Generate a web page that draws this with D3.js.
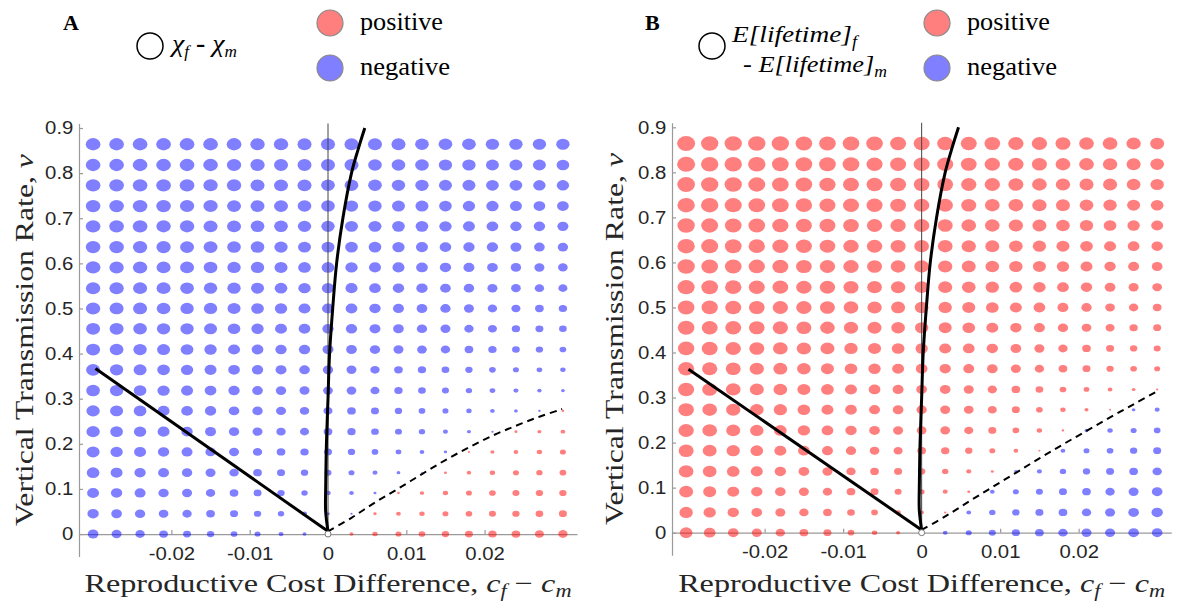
<!DOCTYPE html>
<html>
<head>
<meta charset="utf-8">
<script src="https://cdn.jsdelivr.net/npm/d3@7"></script>
<style>
  body { margin: 0; background: #fff; }
  svg { display: block; }
</style>
</head>
<body>
<svg id="chart" width="1179" height="604"></svg>
<script>
// grid of parameter values
const costDiff = [-0.03, -0.027, -0.024, -0.021, -0.018, -0.015, -0.012, -0.009, -0.006, -0.003, 0,
                  0.003, 0.006, 0.009, 0.012, 0.015, 0.018, 0.021, 0.024, 0.027, 0.03];
const transRate = [0, 0.045, 0.091, 0.136, 0.182, 0.227, 0.273, 0.318, 0.364, 0.409,
                   0.455, 0.5, 0.545, 0.591, 0.636, 0.682, 0.727, 0.773, 0.818, 0.864];

const xTicks = [-0.02, -0.01, 0, 0.01, 0.02];
const xTickLabels = ["-0.02", "-0.01", "0", "0.01", "0.02"];
const yTicks = [0, 0.1, 0.2, 0.3, 0.4, 0.5, 0.6, 0.7, 0.8, 0.9];
const yTickLabels = ["0", "0.1", "0.2", "0.3", "0.4", "0.5", "0.6", "0.7", "0.8", "0.9"];

// chi_f - chi_m (relative size, sign = colour), one row per transRate, from v = 0 upwards
const chiDiff = [
  [-28,-26,-24,-22,-20,-18,-16,-14,-11,-8,0, 8,12,14,16,18,20,21,22,23,24],
  [-30,-28,-27,-25,-24,-22,-20,-18,-15,-11,-7, -3,6,10,12,14,16,17,18,19,20],
  [-32,-30,-29,-27,-26,-24,-22,-20,-18,-15,-12, -10,-5,4,9,12,14,16,17,18,18],
  [-34,-32,-30,-29,-27,-26,-24,-22,-20,-18,-17, -14,-11,-7,-1,5,9,12,14,15,16],
  [-35,-33,-32,-30,-29,-27,-26,-24,-22,-21,-20, -18,-16,-13,-10,-6,3,8,10,12,14],
  [-36,-34,-33,-32,-30,-29,-27,-26,-24,-23,-22, -21,-19,-17,-15,-11,-8,-3,5,8,10],
  [-36,-35,-34,-32,-31,-30,-28,-27,-26,-24,-23, -22,-20,-18,-16,-14,-12,-10,-7,-3,4],
  [-37,-36,-34,-33,-32,-31,-30,-28,-27,-26,-25, -25,-23,-21,-19,-17,-15,-13,-11,-9,-7],
  [-38,-36,-35,-34,-33,-32,-31,-30,-29,-28,-27, -26,-24,-22,-21,-19,-18,-16,-14,-13,-12],
  [-38,-37,-36,-35,-34,-33,-32,-31,-30,-30,-29, -28,-27,-26,-25,-24,-22,-21,-19,-18,-16],
  [-38,-38,-37,-36,-36,-35,-34,-33,-32,-31,-30, -30,-29,-28,-27,-26,-24,-23,-21,-20,-19],
  [-39,-38,-38,-37,-36,-36,-35,-34,-33,-32,-32, -31,-30,-29,-28,-27,-26,-24,-23,-22,-21],
  [-39,-39,-38,-38,-37,-36,-36,-35,-34,-33,-33, -32,-31,-30,-30,-28,-27,-26,-25,-24,-23],
  [-40,-39,-39,-38,-38,-37,-36,-36,-35,-34,-34, -33,-32,-32,-31,-30,-29,-28,-27,-26,-25],
  [-40,-40,-39,-39,-38,-38,-37,-37,-36,-35,-35, -34,-34,-33,-32,-31,-30,-30,-29,-28,-27],
  [-40,-40,-40,-39,-39,-38,-38,-37,-37,-36,-36, -35,-35,-34,-34,-33,-32,-31,-30,-30,-29],
  [-40,-40,-40,-40,-39,-39,-38,-38,-38,-37,-37, -36,-36,-35,-35,-34,-33,-33,-32,-31,-31],
  [-40,-40,-40,-40,-40,-39,-39,-38,-38,-38,-37, -37,-37,-36,-36,-35,-35,-34,-34,-33,-33],
  [-40,-40,-40,-40,-40,-40,-39,-39,-38,-38,-38, -38,-37,-37,-37,-36,-36,-35,-35,-35,-34],
  [-40,-40,-40,-40,-40,-40,-40,-39,-39,-38,-38, -38,-38,-38,-37,-37,-37,-36,-36,-36,-36]
];

// E[lifetime]_f - E[lifetime]_m, same layout
const lifetimeDiff = [
  [34,31,28,26,24,22,20,16,12,8,0, -10,-14,-17,-20,-22,-24,-26,-26,-28,-28],
  [36,33,30,28,26,24,22,19,16,12,9, 3,-10,-15,-18,-20,-22,-24,-26,-28,-30],
  [38,35,32,30,28,26,24,22,20,17,14, 11,5,-10,-14,-17,-20,-22,-24,-26,-28],
  [40,37,34,32,30,28,26,24,22,20,18, 15,11,5,-6,-11,-15,-18,-20,-22,-24],
  [41,38,36,34,32,31,29,27,25,23,22, 21,18,14,10,2,-10,-14,-16,-18,-20],
  [42,40,38,36,34,33,31,30,28,26,25, 25,23,20,16,12,4,-8,-12,-14,-16],
  [43,40,39,37,36,34,32,31,29,28,27, 26,25,23,20,16,12,8,2,-7,-11],
  [44,41,40,38,37,35,34,32,31,29,28, 28,26,24,22,19,16,13,10,7,3],
  [44,42,41,39,38,37,35,34,33,32,31, 30,29,28,26,24,22,20,18,16,14],
  [45,44,42,41,40,39,38,36,35,34,33, 32,31,30,28,26,24,22,20,18,17],
  [46,44,44,43,42,41,40,39,38,37,36, 35,34,32,30,29,27,25,23,21,20],
  [46,45,44,43,42,42,41,40,39,38,37, 36,35,34,32,31,29,27,25,24,22],
  [47,46,45,44,43,42,42,41,40,39,38, 38,37,36,34,33,31,30,28,26,25],
  [48,46,46,45,44,43,42,42,41,40,40, 39,38,37,36,35,33,32,30,29,28],
  [48,47,46,45,44,44,43,42,42,41,40, 40,39,38,37,36,35,34,32,31,30],
  [48,47,46,46,45,44,44,43,42,42,42, 41,40,40,39,38,37,36,34,33,32],
  [48,48,47,46,46,45,44,44,44,43,42, 42,41,40,40,39,38,37,36,35,34],
  [49,48,48,47,46,46,45,44,44,44,43, 43,42,42,41,40,39,38,38,37,36],
  [50,48,48,48,46,46,46,46,44,44,44, 44,43,42,42,41,40,40,39,38,37],
  [50,48,48,48,48,46,46,46,46,44,44, 44,44,43,42,42,41,40,40,39,38]
];

// boundary curves as [cost difference, transmission rate]
const diagonalLineA = [[-0.0297, 0.367], [0, 0.006]];
const diagonalLineB = [[-0.0297, 0.363], [0, 0.006]];
const steepCurve = [[0, 0.006], [-0.0003, 0.05], [-0.0003, 0.1], [-0.0002, 0.2], [0, 0.3], [0.0002, 0.4],
                    [0.0006, 0.5], [0.0011, 0.6], [0.0019, 0.7], [0.003, 0.8], [0.0038, 0.85], [0.0047, 0.9]];
const dashedA = [[0, 0.006], [0.003, 0.036], [0.006, 0.07], [0.009, 0.101], [0.012, 0.133], [0.015, 0.164],
                 [0.018, 0.192], [0.021, 0.218], [0.024, 0.24], [0.027, 0.26], [0.0299, 0.277]];
const dashedB = [[0, 0.006], [0.003, 0.036], [0.006, 0.069], [0.009, 0.101], [0.012, 0.133], [0.015, 0.165],
                 [0.018, 0.196], [0.021, 0.226], [0.024, 0.256], [0.027, 0.285], [0.0299, 0.313]];

const svg = d3.select("#chart");
// marker half-width from |value|
const sizeScale = d3.scaleLinear().domain([0, 50]).range([0.7, 9.0]);
const serif = "Liberation Serif";

function drawPanel(p) {
    const x = d3.scaleLinear().domain([-0.0318, 0.0318]).range([p.left, p.right]);
    const y = d3.scaleLinear().domain([-0.05, 0.91]).range([p.bottom, p.top]);
    const g = svg.append("g");

    // x axis on v = 0, ticks pointing inwards
    const xAxis = g.append("g")
        .attr("transform", `translate(0,${y(0)})`)
        .call(d3.axisBottom(x).tickValues(xTicks).tickFormat((d, i) => xTickLabels[i])
            .tickSizeInner(-4).tickSizeOuter(0).tickPadding(13));
    const yAxis = g.append("g")
        .attr("transform", `translate(${p.left},0)`)
        .call(d3.axisLeft(y).tickValues(yTicks).tickFormat((d, i) => yTickLabels[i])
            .tickSizeInner(-4).tickSizeOuter(0).tickPadding(5));
    [xAxis, yAxis].forEach(a => {
        a.selectAll(".domain, .tick line").attr("stroke", "#9a9a9a").attr("stroke-width", 1.2);
        a.selectAll("text")
            .attr("font-family", "Liberation Sans")
            .attr("font-size", 18)
            .attr("fill", "#262626")
            .attr("transform", "scale(1.13,1)");
    });

    // dots, one per grid cell
    const cells = [];
    p.values.forEach((row, i) => row.forEach((val, j) => {
        if (val !== 0) cells.push({ c: costDiff[j], v: transRate[i], val: val });
    }));
    g.selectAll("ellipse.dot")
        .data(cells)
        .enter()
        .append("ellipse")
        .attr("class", "dot")
        .attr("cx", d => x(d.c))
        .attr("cy", d => y(d.v))
        .attr("rx", d => sizeScale(Math.abs(d.val)))
        .attr("ry", d => sizeScale(Math.abs(d.val)) * 0.84)
        .attr("fill", d => d.val > 0 ? "#ff0000" : "#0000ff")
        .attr("fill-opacity", 0.5);

    // thin line at c = 0
    g.append("line")
        .attr("x1", x(0)).attr("x2", x(0))
        .attr("y1", y(0)).attr("y2", y(0.91))
        .attr("stroke", "#444").attr("stroke-width", 1);

    const line = d3.line().x(d => x(d[0])).y(d => y(d[1]));
    g.append("path").datum(p.diagonal).attr("d", line)
        .attr("fill", "none").attr("stroke", "#000").attr("stroke-width", 3);
    g.append("path").datum(steepCurve).attr("d", line.curve(d3.curveCatmullRom))
        .attr("fill", "none").attr("stroke", "#000").attr("stroke-width", 3);
    g.append("path").datum(p.dashed).attr("d", line.curve(d3.curveCatmullRom))
        .attr("fill", "none").attr("stroke", "#000").attr("stroke-width", 2)
        .attr("stroke-dasharray", "7,5");

    g.append("circle")
        .attr("cx", x(0)).attr("cy", y(0)).attr("r", 3)
        .attr("fill", "#fff").attr("stroke", "#777").attr("stroke-width", 1);

    // axis labels
    const xl = g.append("text")
        .attr("x", (p.left + p.right) / 2).attr("y", 592)
        .attr("text-anchor", "middle")
        .attr("font-family", serif).attr("font-size", 26).attr("fill", "#262626")
        .attr("textLength", 487).attr("lengthAdjust", "spacingAndGlyphs");
    xl.append("tspan").text("Reproductive Cost Difference, ");
    xl.append("tspan").attr("font-style", "italic").text("c");
    xl.append("tspan").attr("font-style", "italic").attr("font-size", 18).attr("dy", 5).text("f");
    xl.append("tspan").attr("dy", -5).text(" \u2212 ");
    xl.append("tspan").attr("font-style", "italic").text("c");
    xl.append("tspan").attr("font-style", "italic").attr("font-size", 18).attr("dy", 5).text("m");

    const yl = g.append("text")
        .attr("transform", `translate(${p.yLabelX},${(p.top + p.bottom) / 2}) rotate(-90)`)
        .attr("text-anchor", "middle")
        .attr("font-family", serif).attr("font-size", 26).attr("fill", "#262626")
        .attr("textLength", 372).attr("lengthAdjust", "spacingAndGlyphs");
    yl.append("tspan").text("Vertical Transmission Rate, ");
    yl.append("tspan").attr("font-style", "italic").text("v");

    // panel letter
    g.append("text")
        .attr("x", p.letterX).attr("y", 30)
        .attr("font-family", serif).attr("font-weight", "bold").attr("font-size", 22)
        .text(p.letter);

    // legend: size key
    g.append("circle")
        .attr("cx", p.keyCircle[0]).attr("cy", p.keyCircle[1]).attr("r", 13)
        .attr("fill", "#fff").attr("stroke", "#000").attr("stroke-width", 1.5);
    p.keyText(g);

    // legend: colour key
    [["positive", "#ff0000", 23], ["negative", "#0000ff", 68]].forEach(([label, col, cy]) => {
        g.append("circle")
            .attr("cx", p.colourX).attr("cy", cy).attr("r", 13)
            .attr("fill", col).attr("fill-opacity", 0.5)
            .attr("stroke", "#8a8a8a").attr("stroke-width", 1.2);
        g.append("text")
            .attr("x", p.colourX + 30).attr("y", cy + 7)
            .attr("font-family", serif).attr("font-size", 26).attr("fill", "#000")
            .attr("textLength", label === "positive" ? 83 : 90)
            .attr("lengthAdjust", "spacingAndGlyphs")
            .text(label);
    });
}

drawPanel({
    letter: "A", letterX: 63,
    left: 79, right: 577, top: 123.5, bottom: 556.6,
    yLabelX: 33,
    values: chiDiff,
    diagonal: diagonalLineA,
    dashed: dashedA,
    keyCircle: [150, 46],
    colourX: 330,
    keyText: g => {
        const t = g.append("text")
            .attr("x", 172).attr("y", 52)
            .attr("font-family", serif).attr("font-size", 26).attr("font-style", "italic")
            .attr("textLength", 65).attr("lengthAdjust", "spacingAndGlyphs");
        t.append("tspan").text("\u03c7");
        t.append("tspan").attr("font-size", 16).attr("dy", 5).text("f");
        t.append("tspan").attr("dy", -5).attr("font-style", "normal").attr("font-weight", "bold").text(" - ");
        t.append("tspan").text("\u03c7");
        t.append("tspan").attr("font-size", 16).attr("dy", 5).text("m");
    }
});

drawPanel({
    letter: "B", letterX: 645,
    left: 672, right: 1171.3, top: 122.8, bottom: 555.2,
    yLabelX: 623,
    values: lifetimeDiff,
    diagonal: diagonalLineB,
    dashed: dashedB,
    keyCircle: [712, 46],
    colourX: 937,
    keyText: g => {
        const t1 = g.append("text")
            .attr("x", 732).attr("y", 42)
            .attr("font-family", serif).attr("font-size", 24).attr("font-style", "italic")
            .attr("textLength", 125).attr("lengthAdjust", "spacingAndGlyphs");
        t1.append("tspan").text("E[lifetime]");
        t1.append("tspan").attr("font-size", 16).attr("dy", 5).text("f");
        const t2 = g.append("text")
            .attr("x", 743).attr("y", 72)
            .attr("font-family", serif).attr("font-size", 24).attr("font-style", "italic")
            .attr("textLength", 144).attr("lengthAdjust", "spacingAndGlyphs");
        t2.append("tspan").text("- E[lifetime]");
        t2.append("tspan").attr("font-size", 16).attr("dy", 5).text("m");
    }
});
</script>
</body>
</html>
